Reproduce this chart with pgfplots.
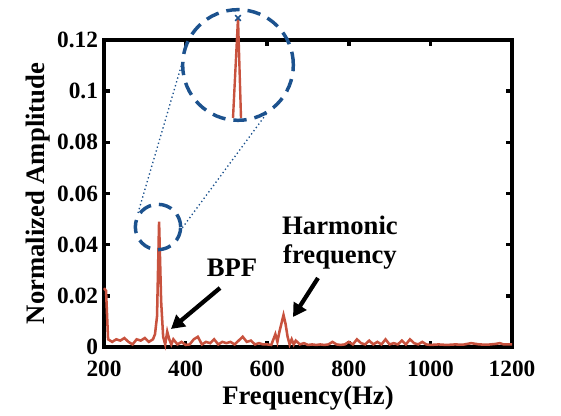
\documentclass[border=0pt]{standalone}
\usepackage{fontspec}
\setmainfont{Liberation Serif}
\usepackage{pgfplots}
\pgfplotsset{compat=1.18}
\usetikzlibrary{arrows.meta}
\definecolor{SpecRed}{RGB}{200,82,62}
\definecolor{ZoomBlue}{RGB}{28,82,142}

\pgfplotstableread{
f a
200 0.023
205 0.022
210 0.003
220 0.002
230 0.003
240 0.0025
250 0.0035
260 0.002
270 0.001
280 0.003
290 0.0025
300 0.0035
310 0.002
320 0.003
325 0.005
330 0.012
335 0.049
340 0.018
345 0.004
350 0.001
355 0.006
360 0.003
365 0.001
370 0.003
380 0.001
390 0.002
400 0.0008
410 0.001
420 0.003
430 0.004
440 0.001
450 0.002
460 0.0015
470 0.003
480 0.001
490 0.002
500 0.0015
510 0.002
520 0.001
530 0.0025
540 0.004
550 0.002
560 0.0025
570 0.001
580 0.0015
590 0.001
600 0.001
610 0.0008
620 0.005
625 0.002
630 0.006
640 0.0125
645 0.009
650 0.004
655 0.001
660 0.003
665 0.001
670 0.0025
680 0.001
690 0.0015
700 0.0008
710 0.001
720 0.0008
730 0.001
740 0.0008
750 0.001
760 0.002
770 0.001
780 0.0008
790 0.001
800 0.002
810 0.001
820 0.003
830 0.0015
840 0.001
850 0.0025
860 0.001
870 0.002
880 0.001
890 0.003
900 0.001
910 0.0015
920 0.001
930 0.0025
940 0.001
950 0.003
960 0.0015
970 0.001
980 0.002
990 0.001
1000 0.0008
1020 0.001
1040 0.0008
1060 0.001
1080 0.0009
1100 0.0015
1120 0.001
1140 0.0009
1160 0.0012
1170 0.0015
1180 0.001
1200 0.001
}\spectrum

% zoomed view of the peak
\pgfplotstableread{
f a
333.75 0.030
335.00 0.049
335.75 0.030
}\peakzoom

\begin{document}
\begin{tikzpicture}
\path[use as bounding box] (0,0) rectangle (420.75pt,312pt);
\begin{axis}[
    at={(78pt,51.75pt)}, anchor=south west,
    scale only axis,
    width=306pt, height=230.25pt,
    xmin=200, xmax=1200, ymin=0, ymax=0.12,
    xtick={200,400,...,1200},
    xticklabels={200,400,600,800,1000,1200},
    ytick={0,0.02,0.04,0.06,0.08,0.1,0.12},
    yticklabels={0,0.02,0.04,0.06,0.08,0.1,0.12},
    tick align=inside,
    major tick length=4.5pt,
    axis line style={line width=2.6pt},
    tick style={line width=2.6pt,black},
    tick label style={font=\fontsize{17.5}{18}\selectfont\bfseries},
    xticklabel style={yshift=-7pt},
    yticklabel style={xshift=-1pt},
    scaled y ticks=false,
    xlabel={Frequency(Hz)},
    ylabel={Normalized Amplitude},
    label style={font=\fontsize{20}{22}\selectfont\bfseries},
    xlabel style={yshift=0pt},
    ylabel style={yshift=-2pt},
    clip=false,
]
\addplot[SpecRed, line width=1.9pt, no markers] table[x=f,y=a] {\spectrum};
\end{axis}
% inset with the zoomed peak
\begin{axis}[
    at={(163.5pt,223.5pt)}, anchor=south west,
    scale only axis, width=30pt, height=75pt,
    xmin=330, xmax=340, ymin=0.03, ymax=0.049,
    axis lines=none, clip=false,
]
\addplot[SpecRed, line width=1.8pt, no markers] table[x=f,y=a] {\peakzoom};
\addplot[ZoomBlue, only marks, mark=x, mark size=3pt, line width=1.2pt] coordinates {(335,0.049)};
\end{axis}
% zoom circles and connectors
\draw[ZoomBlue, line width=2.6pt, dash pattern=on 10pt off 6pt] (178.5pt,263.25pt) circle (41.5pt);
\draw[ZoomBlue, line width=2.6pt, dash pattern=on 10pt off 6pt] (118.5pt,141.75pt) circle (17pt);
\draw[ZoomBlue, line width=1pt, dotted] (103.5pt,152.25pt) -- (137.25pt,267pt);
\draw[ZoomBlue, line width=1pt, dotted] (135pt,138.75pt) -- (200.25pt,227.25pt);
% annotations
\node[font=\fontsize{20}{22}\selectfont\bfseries] at (174pt,111pt) {BPF};
\node[font=\fontsize{20}{22}\selectfont\bfseries, align=center, inner sep=0pt] at (255pt,130pt) {Harmonic\\[0pt]frequency};
\draw[line width=3.2pt, -{Triangle[length=10pt,width=11pt]}] (165pt,96pt) -- (128.25pt,65.25pt);
\draw[line width=3.2pt, -{Triangle[length=10pt,width=11pt]}] (238.5pt,103.5pt) -- (219.75pt,74.25pt);
\end{tikzpicture}
\end{document}
